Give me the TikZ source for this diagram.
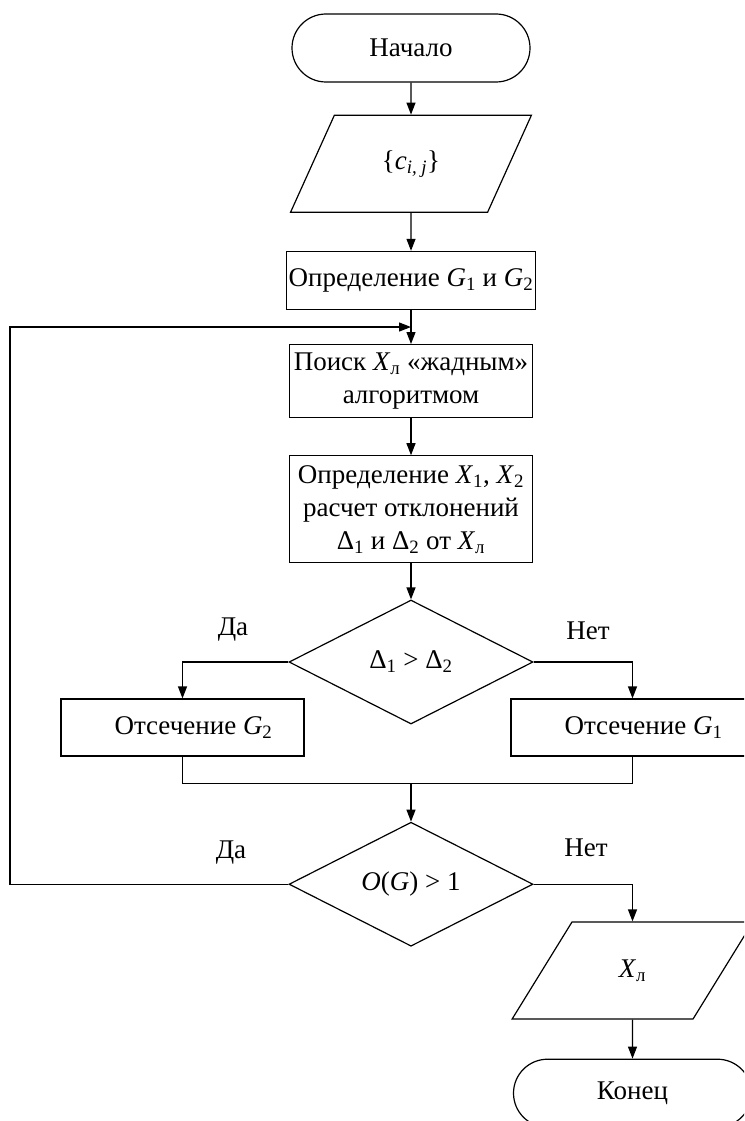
\documentclass[tikz,border=0pt]{standalone}
\usepackage{fontspec}
\setmainfont{Liberation Serif}
\usetikzlibrary{arrows.meta, positioning, shapes.geometric, calc}
\newcommand\xl{\textit{X}\textsubscript{л}}
\newcommand\gsub[1]{\textit{G}\textsubscript{#1}}

\begin{document}
\begin{tikzpicture}[x=1pt, y=-1pt, line width=1.2pt,
  font={\fontsize{27}{33}\selectfont},
  term/.style={rectangle, rounded corners=34pt, draw, minimum width=238pt,
    minimum height=68pt},
  io/.style={trapezium, trapezium left angle=58, trapezium right angle=122,
    trapezium stretches=true, draw, minimum width=241pt, minimum height=97pt,
    inner sep=0pt},
  proc/.style={rectangle, draw, minimum width=243pt, inner sep=2pt, align=center},
  cond/.style={diamond, draw, aspect=2, minimum width=244pt, minimum height=124pt,
    inner sep=0pt},
  tr/.style={-{Triangle[length=12pt, width=9pt]}},
  lbl/.style={inner sep=0pt}]
  \useasboundingbox (0,0) rectangle (744,1121);
  \clip (0,0) rectangle (744,1121);
  % main column
  \node[term] (start) at (411,48) {Начало};
  \node[io, below=32pt of start] (data) {\{\textit{c}\textsubscript{\textit{i, j}}\}};
  \node[proc, below=38pt of data, minimum height=58pt] (defg) {Определение \gsub{1} и \gsub{2}};
  \node[proc, below=34pt of defg, minimum height=73pt] (search) {Поиск \xl{} «жадным»\\ алгоритмом};
  \node[proc, below=37pt of search, minimum height=107pt] (defx)
    {Определение \textit{X}\textsubscript{1}, \textit{X}\textsubscript{2}\\ расчет отклонений\\
     Δ\textsubscript{1} и Δ\textsubscript{2} от \xl};
  \node[cond, below=36pt of defx] (cmp) {Δ\textsubscript{1} > Δ\textsubscript{2}};
  % branches
  \node[proc, minimum height=57pt] (cutg2) at (182.5,727.5) {\hspace*{22pt}Отсечение \gsub{2}};
  \node[proc, minimum height=57pt] (cutg1) at (632.5,727.5) {\hspace*{22pt}Отсечение \gsub{1}};
  \node[cond, below=97pt of cmp] (size) {\textit{O}(\textit{G}) > 1};
  \node[io] (res) at (632.5,970.5) {\xl};
  \node[term, below=39pt of res] (stop) {Конец};
  % labels
  \node[lbl] (yes1) at ([xshift=-178pt, yshift=32pt]cmp.center) {Да};
  \node[lbl] (no1) at ([xshift=177pt, yshift=31pt]cmp.center) {Нет};
  \node[lbl] (yes2) at ([xshift=-180pt, yshift=32pt]size.center) {Да};
  \node[lbl] (no2) at ([xshift=175pt, yshift=36pt]size.center) {Нет};
  % helper points
  \coordinate (loopin) at ($(defg.south)!0.5!(search.north)$);
  \coordinate (railx) at (10,0);
  \coordinate (rail) at (railx |- size.west);
  \coordinate (merge) at ([yshift=38pt]size.north);
  % connectors
  \draw[tr] (start) -- (data);
  \draw[tr] (data) -- (defg);
  \draw[tr] (defg) -- (search);
  \draw[tr] (search) -- (defx);
  \draw[tr] (defx) -- (cmp);
  \draw[tr] (cmp.west) -| (cutg2.north);
  \draw[tr] (cmp.east) -| (cutg1.north);
  \draw (cutg2.south) |- (merge) -| (cutg1.south);
  \draw[tr] (merge) -- (size);
  \draw[tr] (size.west) -- (rail) |- (loopin);
  \draw[tr] (size.east) -| (res.north);
  \draw[tr] (res) -- (stop);
\end{tikzpicture}
\end{document}
